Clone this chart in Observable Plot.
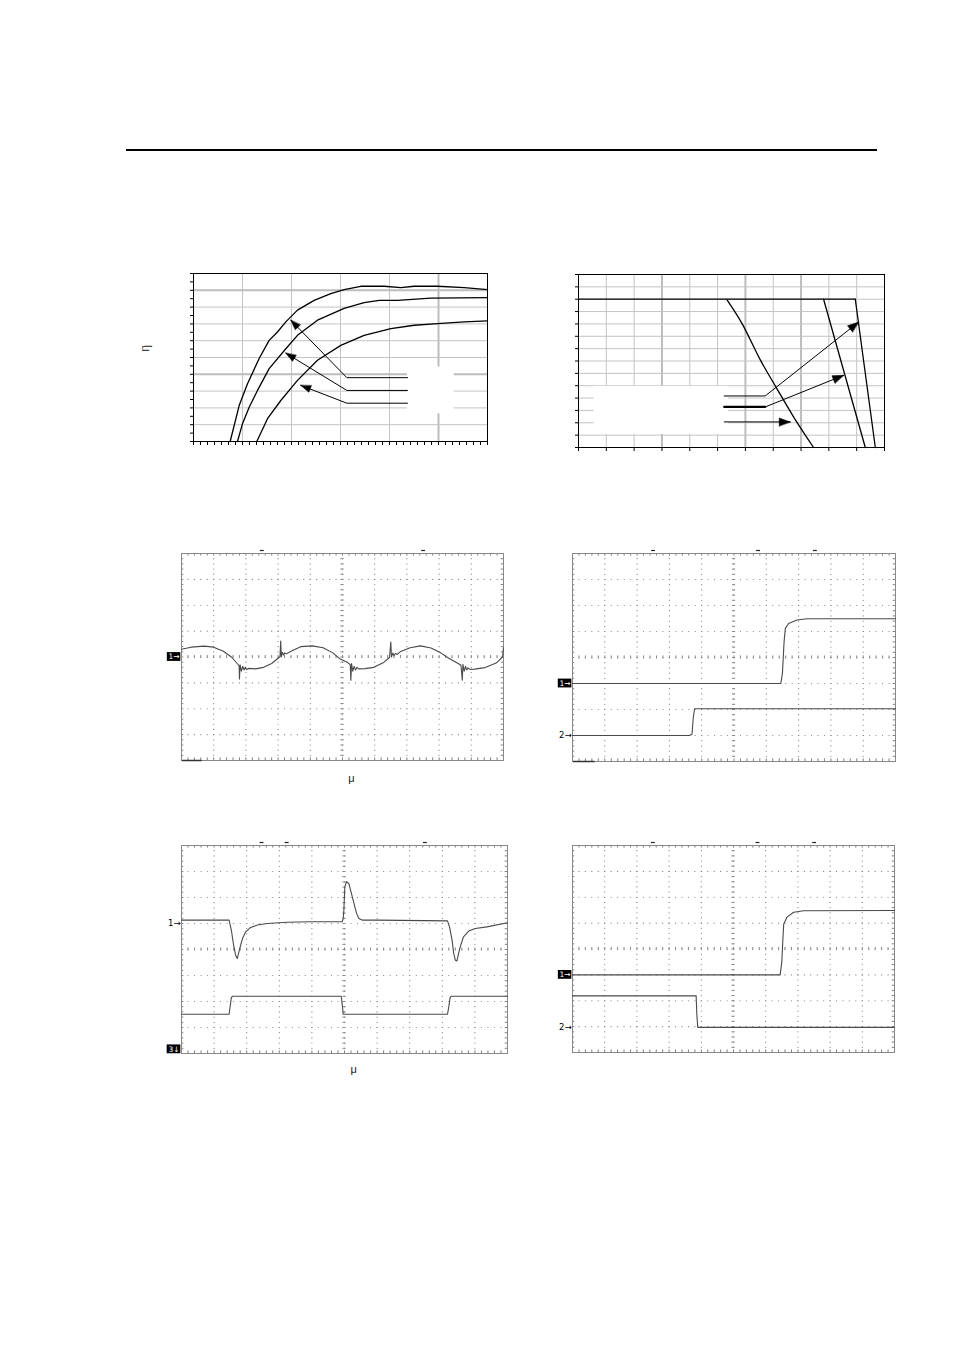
<!DOCTYPE html>
<html><head><meta charset="utf-8">
<script src="https://cdn.jsdelivr.net/npm/d3@7"></script>
<script src="https://cdn.jsdelivr.net/npm/@observablehq/plot@0.6"></script>
<style>
html,body{margin:0;padding:0;background:#fff;}
#page{position:relative;width:954px;height:1350px;background:#fff;overflow:hidden;font-family:"Liberation Sans",Arial,sans-serif;}
#rule{position:absolute;left:126px;top:149px;width:751px;height:2px;background:#000;}
</style></head>
<body><div id="page"><div id="rule"></div></div>
<script>
// ---------- Chart 1: efficiency curves (x: 0..3, y: 50..100) ----------
const effCurveTop = [[0.374,50],[0.466,60.7],[0.551,67.2],[0.670,74.7],[0.772,80.1],[0.857,82.6],[0.942,85.6],[1.061,89.1],[1.231,92.0],[1.401,94.0],[1.537,95.2],[1.707,96.2],[1.946,96.2],[2.116,95.8],[2.252,96.2],[2.490,96.2],[2.762,95.8],[3.0,95.2]];
const effCurveMid = [[0.449,50],[0.500,55.3],[0.568,60.2],[0.653,65.2],[0.772,71.7],[0.942,77.6],[1.061,81.6],[1.265,86.1],[1.537,89.6],[1.741,91.3],[1.895,92.0],[2.082,92.0],[2.422,92.7],[3.0,92.8]];
const effCurveLow = [[0.646,50],[0.755,56.8],[0.891,62.2],[1.061,68.2],[1.265,74.2],[1.503,78.6],[1.741,81.6],[2.014,83.6],[2.252,84.6],[2.490,85.1],[2.762,85.6],[3.0,85.9]];
const effArrows = [
  [[2.184,69.0],[1.565,69.0],[0.993,86.1]],
  [[2.184,65.2],[1.565,65.2],[0.942,76.3]],
  [[2.184,61.4],[1.565,61.4],[1.095,66.7]]
];
const effLegendBox = [{x1:2.184, x2:2.66, y1:58.2, y2:72.2}];
const effGridX = [0.5,1,1.5,2];
const effGridXMajor = [2.5];
const effGridY = [55,60,65,75,80,85,90];
const effGridYMajor = [70,95];
const effYLabel = ["η"];

// ---------- Chart 2: derating lines (x: 0..11, y: 0..14) ----------
const derFlat = [[0,12],[9.95,12]];
const derCurveA = [[5.34,11.95],[5.87,10.07],[6.53,7.11],[7.13,4.77],[7.73,2.48],[8.45,0]];
const derCurveB = [[8.81,12],[10.31,0]];
const derCurveC = [[9.95,12],[10.67,0]];
const derArrows = [
  [[5.24,4.17],[6.71,4.17],[10.07,10.15]],
  [[5.24,3.28],[6.71,3.28],[9.53,5.84]],
  [[5.24,2.07],[7.61,2.07]]
];
const derLegendBox = [{x1:0.56, x2:5.39, y1:1.05, y2:4.95}];
const derGridX = [1,2,4,5,7,9,10];
const derGridXMajor = [3,6,8];
const derGridY = [1,2,3,4,5,6,7,8,9,10,11,12,13];

// ---------- Scope 1: ripple (x: 0..10 div, y: -4..4 div) ----------
const scope1Trace = [[0,0.30],[0.3,0.38],[0.7,0.42],[1.0,0.38],[1.3,0.22],[1.55,0.0],[1.75,-0.28],[1.79,-0.35],[1.80,-0.85],[1.82,-0.30],[1.86,-0.55],[1.90,-0.36],[1.94,-0.50],[1.98,-0.40],[2.02,-0.48],[2.10,-0.44],[2.30,-0.46],[2.55,-0.40],[2.80,-0.25],[3.00,-0.05],[3.06,0.02],[3.08,0.62],[3.10,0.0],[3.13,0.18],[3.17,0.08],[3.21,0.16],[3.26,0.12],[3.40,0.22],[3.70,0.40],[4.06,0.43],[4.40,0.36],[4.70,0.16],[4.93,-0.08],[5.15,-0.20],[5.24,-0.30],[5.26,-0.90],[5.28,-0.25],[5.32,-0.55],[5.36,-0.36],[5.40,-0.50],[5.45,-0.40],[5.50,-0.46],[5.70,-0.45],[5.97,-0.40],[6.28,-0.21],[6.46,-0.02],[6.50,0.58],[6.52,0.0],[6.56,0.15],[6.60,0.06],[6.65,0.14],[6.70,0.10],[6.79,0.20],[7.10,0.36],[7.42,0.43],[7.75,0.35],[8.05,0.16],[8.30,-0.05],[8.55,-0.22],[8.68,-0.32],[8.72,-0.90],[8.74,-0.28],[8.78,-0.55],[8.82,-0.36],[8.86,-0.50],[8.90,-0.42],[8.96,-0.48],[9.10,-0.47],[9.43,-0.41],[9.79,-0.22],[9.97,0.0],[10.0,0.36]];
// ---------- Scope 2: start-up ----------
const scope2Trace1 = [[0,-1],[6.45,-1],[6.50,-0.6],[6.55,0.6],[6.59,1.12],[6.69,1.31],[6.95,1.44],[7.26,1.49],[10,1.49]];
const scope2Trace2 = [[0,-3.0],[3.62,-3.0],[3.70,-2.95],[3.74,-2.3],[3.78,-1.97],[10,-1.97]];
// ---------- Scope 3: load transient ----------
const scope3Trace1 = [[0,1.13],[1.46,1.13],[1.53,0.74],[1.59,0.23],[1.66,-0.22],[1.71,-0.35],[1.80,0.10],[1.87,0.42],[1.97,0.68],[2.12,0.85],[2.33,0.94],[2.63,1.0],[3.24,1.05],[3.96,1.07],[4.93,1.07],[4.96,1.19],[4.98,1.51],[5.01,2.41],[5.06,2.61],[5.13,2.54],[5.20,2.22],[5.29,1.77],[5.37,1.39],[5.44,1.19],[5.54,1.13],[6.0,1.13],[8.16,1.10],[8.22,0.87],[8.30,0.36],[8.35,-0.15],[8.40,-0.41],[8.45,-0.44],[8.50,-0.15],[8.55,0.10],[8.65,0.49],[8.81,0.71],[9.01,0.81],[9.37,0.87],[10,1.03]];
const scope3Trace3 = [[0,-2.49],[1.46,-2.49],[1.49,-2.2],[1.53,-1.85],[1.56,-1.80],[4.90,-1.80],[4.93,-2.1],[4.96,-2.49],[8.16,-2.49],[8.20,-2.2],[8.24,-1.85],[8.27,-1.80],[10,-1.80]];
// ---------- Scope 4: shutdown ----------
const scope4Trace1 = [[0,-1],[6.45,-1],[6.50,-0.5],[6.53,0.3],[6.56,0.97],[6.66,1.23],[6.87,1.42],[7.18,1.48],[10,1.49]];
const scope4Trace2 = [[0,-1.81],[3.84,-1.81],[3.86,-2.5],[3.89,-3.03],[10,-3.03]];

const scopeTopMarks = {s1:[2.51,7.52], s2:[2.51,5.76,7.52], s3:[2.47,3.24,7.48], s4:[2.51,5.76,7.52]};

// ---------- helpers ----------
const page = document.getElementById("page");
const FONT = "'Liberation Sans', Arial, sans-serif";
function place(frame, pad, opts) {
  const [x0, x1, y0, y1] = frame;
  const svg = Plot.plot({
    ...opts,
    width: x1 - x0 + pad.l + pad.r,
    height: y1 - y0 + pad.t + pad.b,
    marginLeft: pad.l, marginRight: pad.r, marginTop: pad.t, marginBottom: pad.b,
    style: {background: "none", overflow: "visible", fontFamily: FONT, color: "black"}
  });
  svg.style.position = "absolute";
  svg.style.left = (x0 - pad.l) + "px";
  svg.style.top = (y0 - pad.t) + "px";
  svg.style.maxWidth = "none";
  page.appendChild(svg);
}
const headShape = {
  draw(ctx, l, r) { ctx.moveTo(0, -l); ctx.lineTo(-r, 0); ctx.lineTo(r, 0); ctx.closePath(); }
};
function heads(arrows, kx, ky) {
  return arrows.map(a => {
    const p = a[a.length - 2], q = a[a.length - 1];
    return {x: q[0], y: q[1], angle: Math.atan2((q[0] - p[0]) * kx, (q[1] - p[1]) * ky) * 180 / Math.PI};
  });
}
const lineOf = (d, o) => Plot.line(d, {x: d => d[0], y: d => d[1], ...o});

// ---------- Chart 1 ----------
{
  const frame = [193, 487, 273, 441];
  const kx = (frame[1] - frame[0]) / 3, ky = (frame[3] - frame[2]) / 50;
  place(frame, {l: 60, r: 10, t: 10, b: 15}, {
    x: {domain: [0, 3], ticks: d3.range(0, 43).map(i => i * 3 / 42), tickSize: 4, tickFormat: () => "", label: null},
    y: {domain: [50, 100], ticks: d3.range(0, 21).map(i => 50 + i * 2.5), tickSize: 3, tickFormat: () => "", label: null},
    marks: [
      Plot.ruleX(effGridX, {stroke: "#c4c4c4", strokeWidth: 1}),
      Plot.ruleX(effGridXMajor, {stroke: "#bdbdbd", strokeWidth: 2}),
      Plot.ruleY(effGridY, {stroke: "#c4c4c4", strokeWidth: 1}),
      Plot.ruleY(effGridYMajor, {stroke: "#bdbdbd", strokeWidth: 2}),
      Plot.rect(effLegendBox, {x1: "x1", x2: "x2", y1: "y1", y2: "y2", fill: "white"}),
      lineOf(effCurveTop, {stroke: "black", strokeWidth: 1.3}),
      lineOf(effCurveMid, {stroke: "black", strokeWidth: 1.3}),
      lineOf(effCurveLow, {stroke: "black", strokeWidth: 1.3}),
      ...effArrows.map(a => lineOf(a, {stroke: "black", strokeWidth: 1})),
      Plot.vector(heads(effArrows, kx, ky), {x: "x", y: "y", rotate: "angle", length: 10, r: 3.5, anchor: "end", shape: headShape, fill: "black", stroke: "black", strokeWidth: 0.5}),
      Plot.frame({stroke: "black", strokeWidth: 1}),
      Plot.text(effYLabel, {x: 0, y: 77.7, text: d => d, dx: -48, rotate: -90, fontSize: 12, fill: "#444"})
    ]
  });
}

// ---------- Chart 2 ----------
{
  const frame = [578, 884, 274, 447];
  const kx = (frame[1] - frame[0]) / 11, ky = (frame[3] - frame[2]) / 14;
  place(frame, {l: 10, r: 10, t: 10, b: 15}, {
    x: {domain: [0, 11], ticks: d3.range(0, 12), tickSize: 4, tickFormat: () => "", label: null},
    y: {domain: [0, 14], ticks: d3.range(0, 15), tickSize: 3, tickFormat: () => "", label: null},
    marks: [
      Plot.ruleX(derGridX, {stroke: "#c4c4c4", strokeWidth: 1}),
      Plot.ruleX(derGridXMajor, {stroke: "#bdbdbd", strokeWidth: 2}),
      Plot.ruleY(derGridY, {stroke: "#c4c4c4", strokeWidth: 1}),
      Plot.rect(derLegendBox, {x1: "x1", x2: "x2", y1: "y1", y2: "y2", fill: "white"}),
      lineOf(derFlat, {stroke: "black", strokeWidth: 1.3}),
      lineOf(derCurveA, {stroke: "black", strokeWidth: 1.3, curve: "monotone-x"}),
      lineOf(derCurveB, {stroke: "black", strokeWidth: 1.3}),
      lineOf(derCurveC, {stroke: "black", strokeWidth: 1.3}),
      ...derArrows.map(a => lineOf(a, {stroke: "black", strokeWidth: 1})),
      lineOf(derArrows[1].slice(0, 2), {stroke: "black", strokeWidth: 2.2}),
      Plot.vector(heads(derArrows, kx, ky), {x: "x", y: "y", rotate: "angle", length: 11, r: 4, anchor: "end", shape: headShape, fill: "black", stroke: "black", strokeWidth: 0.5}),
      Plot.frame({stroke: "black", strokeWidth: 1})
    ]
  });
}

// ---------- Scope charts ----------
function scopeGrid() {
  const dots = [];
  for (const v of [1,2,3,4,5,6,7,8,9]) for (let k = 0; k <= 40; k++) dots.push([v, -4 + k * 0.2]);
  for (const h of [-3,-2,-1,0,1,2,3]) for (let k = 0; k <= 50; k++) dots.push([k * 0.2, h]);
  const xs = d3.range(0, 51).map(k => k * 0.2);
  const ys = d3.range(0, 41).map(k => -4 + k * 0.2);
  return [
    Plot.dot(dots, {x: d => d[0], y: d => d[1], r: 0.6, fill: "#808080", stroke: null}),
    Plot.ruleX(xs, {y1: -0.06, y2: 0.06, stroke: "#8a8a8a", strokeWidth: 1}),
    Plot.ruleY(ys, {x1: 4.95, x2: 5.05, stroke: "#8a8a8a", strokeWidth: 1}),
    Plot.ruleX(xs, {y1: 4, y2: 3.9, stroke: "#808080", strokeWidth: 1}),
    Plot.ruleX(xs, {y1: -4, y2: -3.9, stroke: "#808080", strokeWidth: 1}),
    Plot.ruleY(ys, {x1: 0, x2: 0.07, stroke: "#808080", strokeWidth: 1}),
    Plot.ruleY(ys, {x1: 9.93, x2: 10, stroke: "#808080", strokeWidth: 1}),
    Plot.frame({stroke: "#888", strokeWidth: 1})
  ];
}
function boxMarker(label, y) {
  return [
    Plot.rect([y], {x1: -0.44, x2: -0.02, y1: d => d - 0.17, y2: d => d + 0.17, fill: "black"}),
    Plot.text([label], {x: -0.23, y: y, text: d => d, fill: "white", fontSize: 7.5, fontFamily: "'DejaVu Sans', sans-serif"})
  ];
}
function plainMarker(label, y) {
  return [Plot.text([label], {x: 0, y: y, text: d => d, dx: -1, textAnchor: "end", fontSize: 8.5, fill: "black", fontFamily: "'DejaVu Sans', sans-serif"})];
}
function topMarks(xs) {
  return Plot.ruleY(xs, {y: 4, x1: d => d - 0.06, x2: d => d + 0.06, dy: -3, stroke: "#222", strokeWidth: 1.2});
}
function scope(frame, pad, marks) {
  place(frame, pad, {
    x: {domain: [0, 10], axis: null},
    y: {domain: [-4, 4], axis: null},
    marks: [...scopeGrid(), ...marks]
  });
}
const traceStyle = {stroke: "#4a4a4a", strokeWidth: 1.1};

scope([181, 503, 553, 760], {l: 20, r: 10, t: 10, b: 25}, [
  lineOf(scope1Trace, traceStyle),
  ...boxMarker("1→", 0),
  topMarks(scopeTopMarks.s1),
  Plot.ruleY([-4], {x1: 0.03, x2: 0.64, stroke: "#333", strokeWidth: 1.5}),
  Plot.text(["μ"], {x: 5.28, y: -4, dy: 18, text: d => d, fontSize: 11, fill: "#222"})
]);

scope([572, 895, 553, 761], {l: 20, r: 10, t: 10, b: 10}, [
  lineOf(scope2Trace1, traceStyle),
  lineOf(scope2Trace2, traceStyle),
  ...boxMarker("1→", -1),
  ...plainMarker("2→", -3),
  topMarks(scopeTopMarks.s2),
  Plot.ruleY([-4], {x1: 0.03, x2: 0.7, stroke: "#333", strokeWidth: 1.5})
]);

scope([181, 507, 845, 1053], {l: 20, r: 10, t: 10, b: 25}, [
  lineOf(scope3Trace1, traceStyle),
  lineOf(scope3Trace3, traceStyle),
  ...plainMarker("1→", 1.0),
  ...boxMarker("3↓", -3.84),
  topMarks(scopeTopMarks.s3),
  Plot.text(["μ"], {x: 5.28, y: -4, dy: 16, text: d => d, fontSize: 11, fill: "#222"})
]);

scope([572, 894, 845, 1052], {l: 20, r: 10, t: 10, b: 10}, [
  lineOf(scope4Trace1, traceStyle),
  lineOf(scope4Trace2, traceStyle),
  ...boxMarker("1→", -1),
  ...plainMarker("2→", -3.03),
  topMarks(scopeTopMarks.s4)
]);
</script>
</body></html>
